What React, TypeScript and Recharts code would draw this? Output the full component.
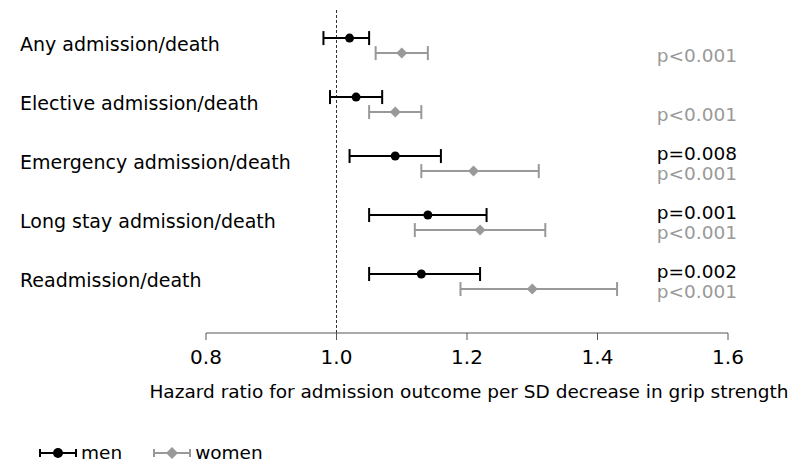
import React from 'react';
import { ScatterChart, Scatter, XAxis, YAxis, ErrorBar, ReferenceLine, Legend } from 'recharts';

const categories = [
  'Any admission/death',
  'Elective admission/death',
  'Emergency admission/death',
  'Long stay admission/death',
  'Readmission/death',
];
const menHR = [1.02, 1.03, 1.09, 1.14, 1.13];
const menLo = [0.98, 0.99, 1.02, 1.05, 1.05];
const menHi = [1.05, 1.07, 1.16, 1.23, 1.22];
const womenHR = [1.10, 1.09, 1.21, 1.22, 1.30];
const womenLo = [1.06, 1.05, 1.13, 1.12, 1.19];
const womenHi = [1.14, 1.13, 1.31, 1.32, 1.43];
const menP = ['', '', 'p=0.008', 'p=0.001', 'p=0.002'];
const womenP = ['p<0.001', 'p<0.001', 'p<0.001', 'p<0.001', 'p<0.001'];
const xTicks = [0.8, 1.0, 1.2, 1.4, 1.6];

const MEN = '#000000';
const WOMEN = '#999999';
const WOMEN_OFFSET = 0.255;

const menData = categories.map((c, i) => ({ name: c, x: menHR[i], y: i, err: [menHR[i] - menLo[i], menHi[i] - menHR[i]] }));
const womenData = categories.map((c, i) => ({ name: c, x: womenHR[i], y: i + WOMEN_OFFSET, err: [womenHR[i] - womenLo[i], womenHi[i] - womenHR[i]] }));

const labelTicks = categories.map((_, i) => i + 0.1);
const pLabels = [
  ...menP.map((t, i) => ({ pos: i - 0.04, text: t, color: MEN })).filter((p) => p.text),
  ...womenP.map((t, i) => ({ pos: i + 0.3, text: t, color: WOMEN })),
];

const CategoryTick = (props: any) => {
  const { y, index } = props;
  return (
    <text x={20} y={y} dy="0.35em" fontSize={19} fill="#000" textAnchor="start">
      {categories[index]}
    </text>
  );
};

const PTick = (props: any) => {
  const { y, index } = props;
  const p = pLabels[index];
  if (!p) return null;
  return (
    <text x={737} y={y} dy="0.35em" fontSize={18.5} fill={p.color} textAnchor="end">
      {p.text}
    </text>
  );
};

const Dot = (props: any) => <circle cx={props.cx} cy={props.cy} r={4.5} fill={MEN} />;
const Diamond = (props: any) => {
  const { cx, cy } = props;
  const r = 5.5;
  return <polygon points={`${cx},${cy - r} ${cx + r},${cy} ${cx},${cy + r} ${cx - r},${cy}`} fill={WOMEN} />;
};

const renderLegend = () => {
  const items = [
    { label: 'men', color: MEN, shape: 'circle' },
    { label: 'women', color: WOMEN, shape: 'diamond' },
  ];
  return (
    <div style={{ display: 'flex', alignItems: 'center', fontSize: 18.5 }}>
      {items.map((it) => (
        <div key={it.label} style={{ display: 'flex', alignItems: 'center', marginRight: 30 }}>
          <svg width={40} height={16}>
            <line x1={2} y1={8} x2={38} y2={8} stroke={it.color} strokeWidth={2} />
            <line x1={2} y1={4} x2={2} y2={12} stroke={it.color} strokeWidth={2} />
            <line x1={38} y1={4} x2={38} y2={12} stroke={it.color} strokeWidth={2} />
            {it.shape === 'circle' ? (
              <circle cx={20} cy={8} r={5} fill={it.color} />
            ) : (
              <polygon points="20,2 26,8 20,14 14,8" fill={it.color} />
            )}
          </svg>
          <span style={{ marginLeft: 3, color: '#000' }}>{it.label}</span>
        </div>
      ))}
    </div>
  );
};

export default function App() {
  return (
    <div style={{ width: 800, height: 469, fontFamily: '"DejaVu Sans", Verdana, sans-serif', background: '#fff' }}>
      <style>{'body{margin:0}'}</style>
      <ScatterChart width={800} height={469} margin={{ top: 8, right: 0, left: 20, bottom: 50 }}>
        <XAxis
          type="number"
          dataKey="x"
          domain={[0.8, 1.6]}
          ticks={xTicks}
          tickFormatter={(v: number) => v.toFixed(1)}
          tick={{ fontSize: 20, fill: '#000' }}
          axisLine={{ stroke: '#555' }}
          tickLine={{ stroke: '#555' }}
          tickSize={7}
          tickMargin={10}
          height={65}
          label={{ value: 'Hazard ratio for admission outcome per SD decrease in grip strength', position: 'insideBottom', offset: 0, fontSize: 18.5, fill: '#000', dx: 2 }}
        />
        <YAxis
          yAxisId="left"
          type="number"
          dataKey="y"
          domain={[-0.51, 5.0]}
          reversed
          allowDataOverflow
          ticks={labelTicks}
          interval={0}
          tick={<CategoryTick />}
          axisLine={false}
          tickLine={false}
          width={186}
        />
        <YAxis
          yAxisId="right"
          orientation="right"
          type="number"
          domain={[-0.51, 5.0]}
          reversed
          allowDataOverflow
          ticks={pLabels.map((p) => p.pos)}
          interval={0}
          tick={<PTick />}
          axisLine={false}
          tickLine={false}
          width={72}
        />
        <ReferenceLine yAxisId="left" x={1} stroke="#333" strokeDasharray="3 2" />
        <Scatter name="men" yAxisId="left" data={menData} fill={MEN} shape={<Dot />} isAnimationActive={false}>
          <ErrorBar dataKey="err" direction="x" width={7} stroke={MEN} strokeWidth={2} />
        </Scatter>
        <Scatter name="women" yAxisId="left" data={womenData} fill={WOMEN} shape={<Diamond />} isAnimationActive={false}>
          <ErrorBar dataKey="err" direction="x" width={7} stroke={WOMEN} strokeWidth={2} />
        </Scatter>
        <Legend content={renderLegend} verticalAlign="bottom" align="left" wrapperStyle={{ left: 38, bottom: 6, width: 'auto' }} />
      </ScatterChart>
    </div>
  );
}
